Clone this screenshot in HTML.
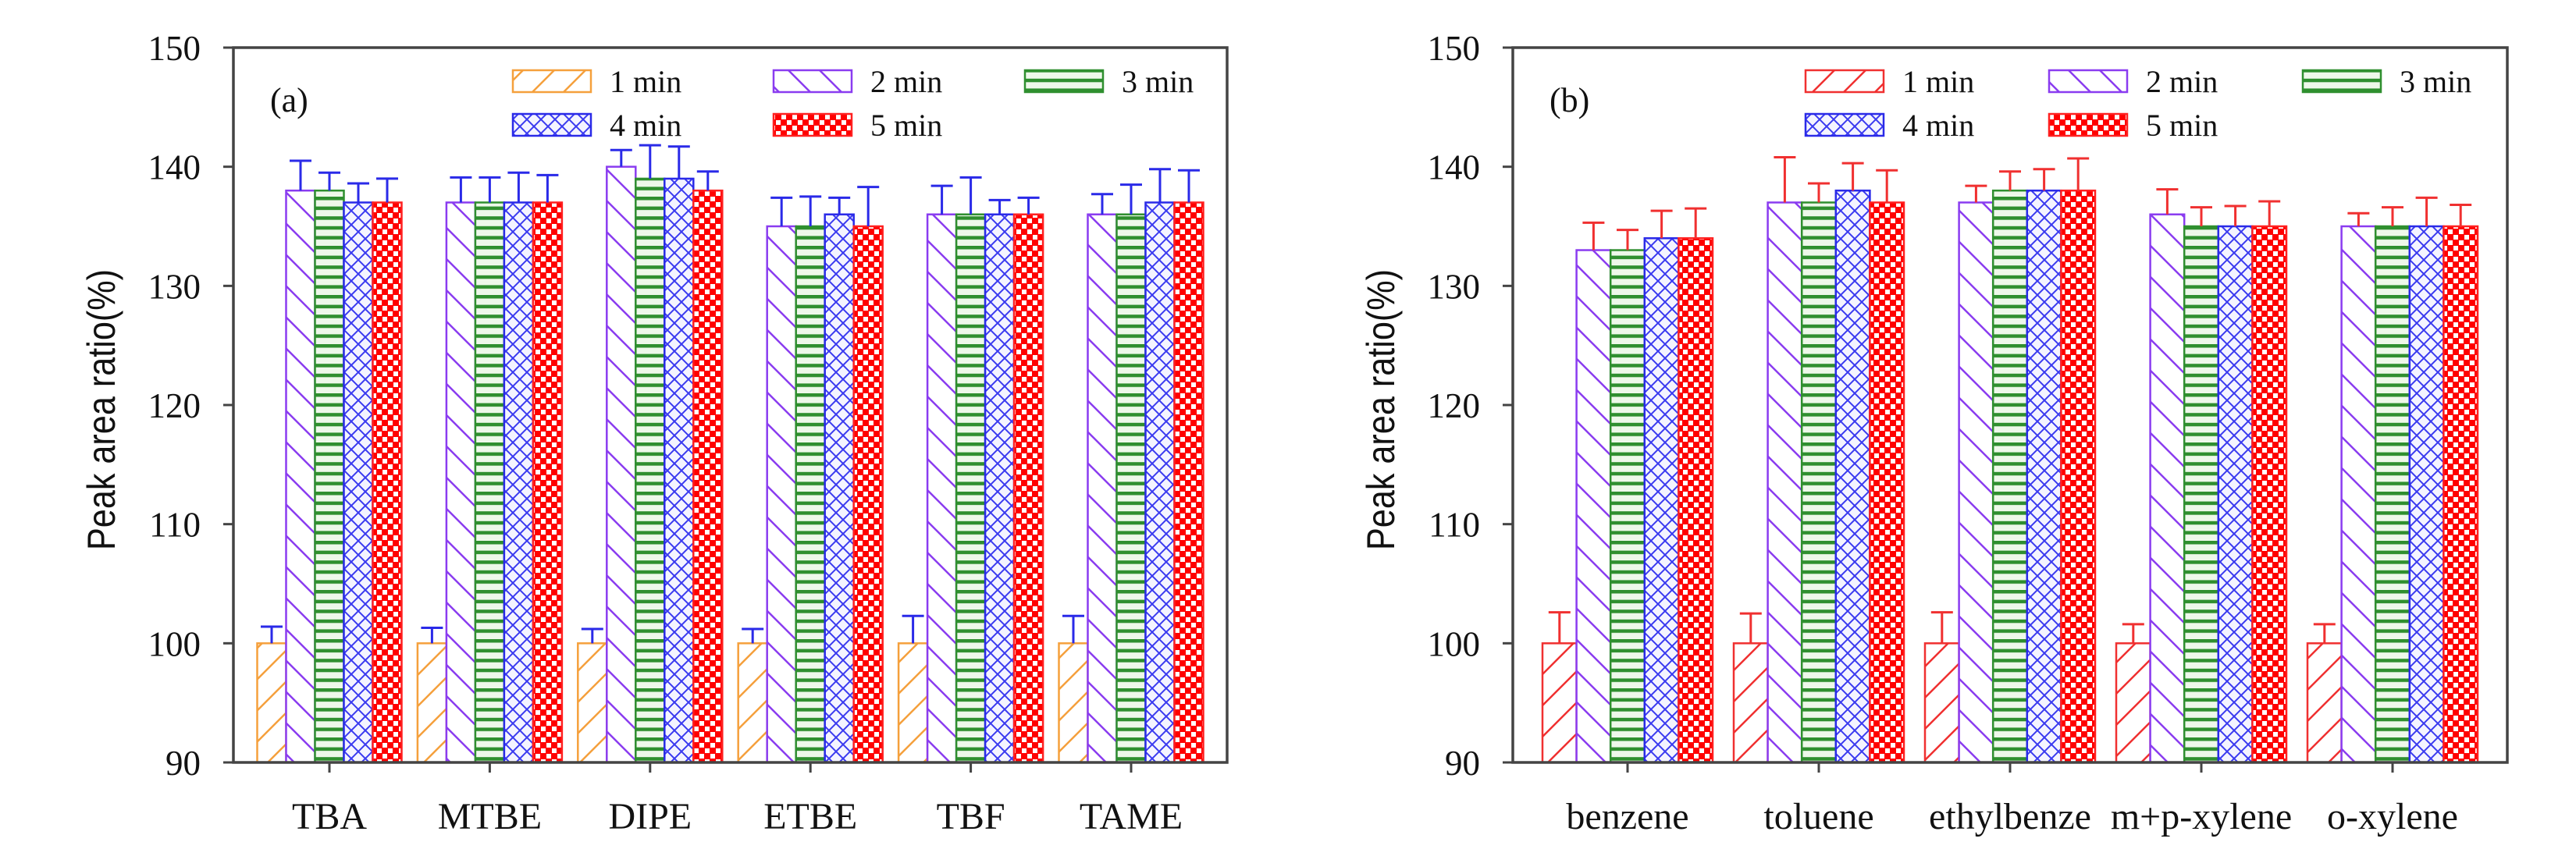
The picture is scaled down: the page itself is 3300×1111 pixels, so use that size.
<!DOCTYPE html>
<html>
<head>
<meta charset="utf-8">
<style>
html,body{margin:0;padding:0;background:#fff;}
svg{display:block;}
text{font-family:"Liberation Serif",serif;fill:#111;}
.ytitle{font-family:"Liberation Sans",sans-serif;}
</style>
</head>
<body>
<svg id="chart" width="3300" height="1111" viewBox="0 0 3300 1111" xmlns="http://www.w3.org/2000/svg">
<defs>
  <pattern id="pA1" patternUnits="userSpaceOnUse" width="40" height="40"><rect width="40" height="40" fill="#fff"/><path d="M-10,50 L50,-10 M-10,10 L10,-10 M30,50 L50,30" stroke="#f5a03c" stroke-width="2.5"/></pattern>
  <pattern id="pB1" patternUnits="userSpaceOnUse" width="40" height="40"><rect width="40" height="40" fill="#fff"/><path d="M-10,50 L50,-10 M-10,10 L10,-10 M30,50 L50,30" stroke="#f03030" stroke-width="2.5"/></pattern>
  <pattern id="p2" patternUnits="userSpaceOnUse" width="40" height="40"><rect width="40" height="40" fill="#fff"/><path d="M-10,-10 L50,50 M-10,30 L10,50 M30,-10 L50,10" stroke="#8a3cf0" stroke-width="2.5"/></pattern>
  <pattern id="p3" patternUnits="userSpaceOnUse" width="20" height="12.6"><rect width="20" height="12.6" fill="#eef8ea"/><rect y="0" width="20" height="4.5" fill="#2f8f2f"/></pattern>
  <pattern id="p4" patternUnits="userSpaceOnUse" width="18" height="18"><rect width="18" height="18" fill="#f4f4ff"/><path d="M0,0 L18,18 M18,0 L0,18 M-9,9 L9,27 M9,-9 L27,9 M-9,9 L9,-9 M9,27 L27,9" stroke="#3a3af0" stroke-width="2"/></pattern>
  <pattern id="p5" patternUnits="userSpaceOnUse" width="14" height="14"><rect width="14" height="14" fill="#ff0000"/><rect x="0" y="0" width="6" height="6" fill="#fff"/><rect x="7" y="7" width="6" height="6" fill="#fff"/></pattern>
</defs>
<g id="panelA"></g>
<g id="panelB"></g>
</svg>
<script>
// ---- Panel (a) data ----
const catsA = ["TBA","MTBE","DIPE","ETBE","TBF","TAME"];
const a1 = [100,100,100,100,100,100];
const a2 = [138,137,140,135,136,136];
const a3 = [138,137,139,135,136,136];
const a4 = [137,137,139,136,136,137];
const a5 = [137,137,138,135,136,137];
const aErr1 = [101.4,101.3,101.2,101.2,102.3,102.3];
const aErr2 = [140.5,139.1,141.4,137.4,138.4,137.7];
const aErr3 = [139.5,139.1,141.8,137.5,139.1,138.5];
const aErr4 = [138.6,139.5,141.7,137.4,137.2,139.8];
const aErr5 = [139.0,139.3,139.6,138.3,137.4,139.7];
// ---- Panel (b) data ----
const catsB = ["benzene","toluene","ethylbenze","m+p-xylene","o-xylene"];
const b1 = [100,100,100,100,100];
const b2 = [133,137,137,136,135];
const b3 = [133,137,138,135,135];
const b4 = [134,138,138,135,135];
const b5 = [134,137,138,135,135];
const bErr1 = [102.6,102.5,102.6,101.6,101.6];
const bErr2 = [135.3,140.8,138.4,138.1,136.1];
const bErr3 = [134.7,138.6,139.6,136.6,136.6];
const bErr4 = [136.3,140.3,139.8,136.7,137.4];
const bErr5 = [136.5,139.7,140.7,137.1,136.8];
const yTicks = [90,100,110,120,130,140,150];
const seriesLabels = ["1 min","2 min","3 min","4 min","5 min"];

const NS = "http://www.w3.org/2000/svg";
function mk(tag, attrs, parent){
  const e = document.createElementNS(NS, tag);
  for (const k in attrs) e.setAttribute(k, attrs[k]);
  parent.appendChild(e);
  return e;
}
const yTop = 61, yBot = 977;
function yScale(v){ return yBot - (v - 90) * (yBot - yTop) / 60; }

function drawPanel(g, cfg){
  const {left, right, cats, series, errs, firstX, step, barW, fills, stroke, errColor, letter, legendX} = cfg;
  yTicks.forEach(t => {
    const y = yScale(t);
    const tk = mk("line", {x1:left-13, x2:left, y1:y, y2:y, stroke:"#444", "stroke-width":3}, g);
    
    
    const tl = mk("text", {x:left-42, y:y+16, "text-anchor":"end", "font-size":45}, g);
    tl.textContent = t;
    
    
  });
  const tx = left - 152, ty = 525;
  const title = mk("text", {class:"ytitle", x:tx, y:ty, "text-anchor":"middle", "font-size":50, transform:`rotate(-90 ${tx} ${ty})`, textLength:360, lengthAdjust:"spacingAndGlyphs"}, g);
  title.textContent = "Peak area ratio(%)";
  
  
  cats.forEach((c, i) => {
    const cx = firstX + i * step;
    series.forEach((s, j) => {
      const x = cx - 2.5 * barW + j * barW;
      const y = yScale(s[i]);
      const r = mk("rect", {x:x, y:y, width:barW, height:yBot - y, fill:`url(#${fills[j]})`, stroke:stroke[j], "stroke-width":2.5}, g);
      
      
      const ey = yScale(errs[j][i]);
      const ex = x + barW / 2;
      const el = mk("path", {d:`M${ex},${y} L${ex},${ey} M${ex-14},${ey} L${ex+14},${ey}`, stroke:errColor, "stroke-width":3, fill:"none"}, g);
      
      
    });
    const xt = mk("line", {x1:cx, x2:cx, y1:yBot, y2:yBot+13, stroke:"#444", "stroke-width":3}, g);
    
    
    const xl = mk("text", {x:cx, y:1062, "text-anchor":"middle", "font-size":48}, g);
    xl.textContent = c;
    
    
  });
  const fr = mk("rect", {x:left, y:yTop, width:right-left, height:yBot-yTop, fill:"none", stroke:"#444", "stroke-width":3.5}, g);
  
  
  const lt = mk("text", {x:left+47, y:143, "font-size":44}, g);
  lt.textContent = letter;
  
  
  const pos = [[0,0],[1,0],[2,0],[0,1],[1,1]];
  seriesLabels.forEach((lab, j) => {
    const lx = left + legendX[pos[j][0]];
    const ly = 90 + pos[j][1] * 56;
    const sw = mk("rect", {x:lx, y:ly, width:100, height:28, fill:`url(#${fills[j]})`, stroke:stroke[j], "stroke-width":2.5}, g);
    
    
    const lt2 = mk("text", {x:lx+124, y:ly+28, "font-size":40}, g);
    lt2.textContent = lab;
    
    
  });
}

drawPanel(document.getElementById("panelA"), {
  left:299, right:1572, cats:catsA,
  series:[a1,a2,a3,a4,a5], errs:[aErr1,aErr2,aErr3,aErr4,aErr5],
  firstX:422, step:205.4, barW:37,
  fills:["pA1","p2","p3","p4","p5"],
  stroke:["#f5a03c","#8a3cf0","#2f8f2f","#2a2ae8","#ff2020"],
  errColor:"#2a2ae8", letter:"(a)", legendX:[358,692,1014]
});
drawPanel(document.getElementById("panelB"), {
  left:1938, right:3212, cats:catsB,
  series:[b1,b2,b3,b4,b5], errs:[bErr1,bErr2,bErr3,bErr4,bErr5],
  firstX:2085, step:245, barW:43.6,
  fills:["pB1","p2","p3","p4","p5"],
  stroke:["#f03030","#8a3cf0","#2f8f2f","#2a2ae8","#ff2020"],
  errColor:"#f03030", letter:"(b)", legendX:[375,687,1012]
});
</script>
</body>
</html>
